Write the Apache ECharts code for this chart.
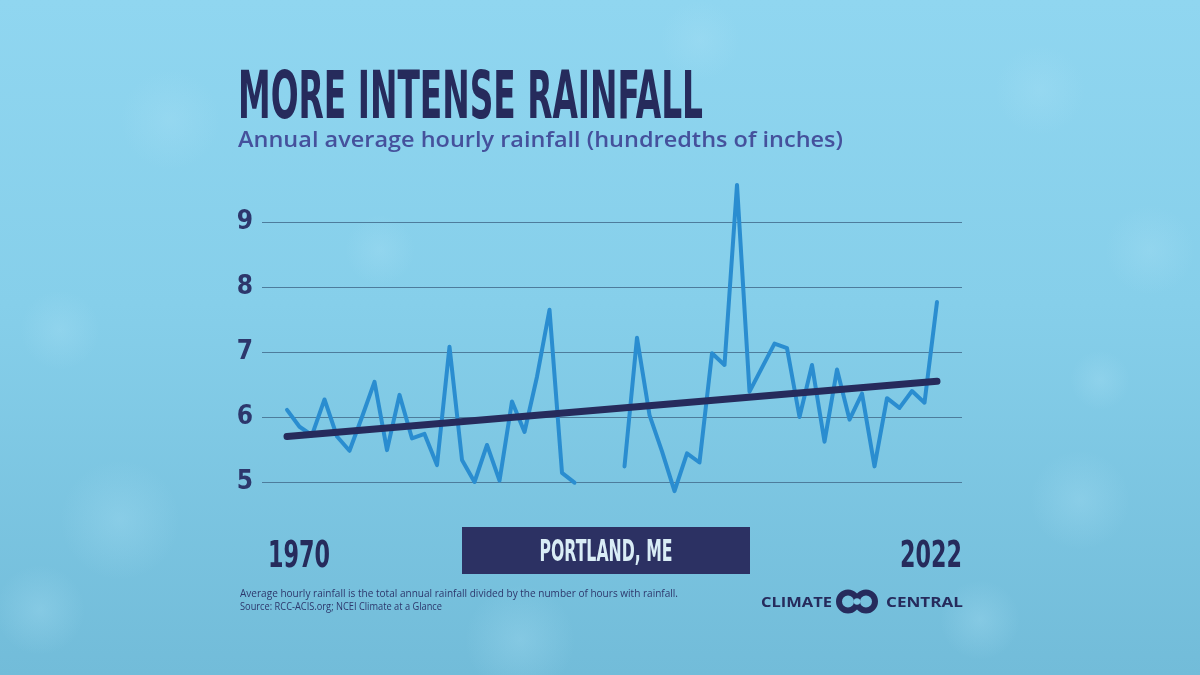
<!DOCTYPE html>
<html>
<head>
<meta charset="utf-8">
<script src="https://cdn.jsdelivr.net/npm/echarts@6/dist/echarts.min.js"></script>
<style>
html,body{margin:0;padding:0;background:#84cde8;}
#chart{width:1200px;height:675px;}
</style>
</head>
<body>
<div id="chart"></div>
<script>
// ---- Data ----
const years = [1970,1971,1972,1973,1974,1975,1976,1977,1978,1979,1980,1981,1982,1983,1984,1985,1986,1987,1988,1989,1990,1991,1992,1993,1994,1995,1996,1997,1998,1999,2000,2001,2002,2003,2004,2005,2006,2007,2008,2009,2010,2011,2012,2013,2014,2015,2016,2017,2018,2019,2020,2021,2022];
const hourlyRain = [6.11,5.85,5.72,6.27,5.70,5.48,6.00,6.54,5.49,6.34,5.67,5.74,5.26,7.08,5.34,5.00,5.57,5.02,6.24,5.77,6.62,7.65,5.14,4.99,null,null,null,5.24,7.22,6.03,5.47,4.86,5.44,5.30,6.98,6.80,9.57,6.39,6.76,7.13,7.06,6.00,6.80,5.62,6.73,5.96,6.36,5.24,6.29,6.14,6.40,6.22,7.77];
const trendYears = [1970, 2022];
const trendValues = [5.70, 6.55];
const yTicks = [5, 6, 7, 8, 9];
const startLabel = '1970';
const endLabel = '2022';
const titleText = 'MORE INTENSE RAINFALL';
const subtitleText = 'Annual average hourly rainfall (hundredths of inches)';
const placeText = 'PORTLAND, ME';
const note1 = 'Average hourly rainfall is the total annual rainfall divided by the number of hours with rainfall.';
const note2 = 'Source: RCC-ACIS.org; NCEI Climate at a Glance';

// ---- Helpers ----
const NARROW = '"Liberation Sans Narrow", "DejaVu Sans Condensed", "Roboto", sans-serif';
const SANS = '"Open Sans", "Noto Sans", sans-serif';
const mctx = document.createElement('canvas').getContext('2d');
function fitScale(text, weight, size, family, target) {
  mctx.font = weight + ' ' + size + 'px ' + family;
  const w = mctx.measureText(text).width;
  return w > 0 ? target / w : 1;
}
function fittedText(text, x, y, align, weight, size, family, targetW, color, scaleY) {
  return {
    type: 'text', x: x, y: y, silent: true, z: 10,
    scaleX: fitScale(text, weight, size, family, targetW),
    scaleY: scaleY || 1,
    style: { text: text, fill: color, fontSize: size, fontWeight: weight, fontFamily: family,
             textAlign: align, textVerticalAlign: 'middle' }
  };
}

const NAVY = '#262b5c';
const chart = echarts.init(document.getElementById('chart'));

const bgBlobs = [];
const blobSpecs = [[120,520,60],[60,330,40],[1080,500,50],[1150,250,45],[980,620,40],[520,640,55],[170,120,50],[1040,90,45],[700,40,40],[380,250,35],[1100,380,30],[40,610,45]];
blobSpecs.forEach(function(b){
  bgBlobs.push({type:'circle', silent:true, z:-9, shape:{cx:b[0], cy:b[1], r:b[2]},
    style:{fill:{type:'radial', x:0.5, y:0.5, r:0.5, colorStops:[{offset:0,color:'rgba(170,225,245,0.3)'},{offset:1,color:'rgba(170,225,245,0)'}]}}});
});

const option = {
  animation: false,
  backgroundColor: '#84cde8',
  grid: { left: 262, right: 238, top: 222, bottom: 193, containLabel: false },
  xAxis: {
    type: 'value', min: 1968, max: 2024,
    axisLine: { show: false }, axisTick: { show: false }, axisLabel: { show: false }, splitLine: { show: false }
  },
  yAxis: {
    type: 'value', min: yTicks[0], max: yTicks[yTicks.length - 1], interval: 1,
    axisLine: { show: false }, axisTick: { show: false },
    axisLabel: { margin: 9, color: '#2d376c', fontSize: 26, fontWeight: 'bold', fontFamily: NARROW },
    splitLine: { lineStyle: { color: '#4d7c9c', width: 1 } }
  },
  series: [
    {
      type: 'line', name: 'Hourly rainfall',
      data: years.map(function (y, i) { return [y, hourlyRain[i]]; }),
      showSymbol: false, connectNulls: false, clip: false, z: 3,
      lineStyle: { color: '#2a8dd0', width: 4, join: 'round', cap: 'round' }
    },
    {
      type: 'line', name: 'Trend',
      data: trendYears.map(function (y, i) { return [y, trendValues[i]]; }),
      showSymbol: false, clip: false, z: 4,
      lineStyle: { color: NAVY, width: 7, cap: 'round' }
    }
  ],
  graphic: [
    { type: 'rect', silent: true, z: -10, shape: { x: 0, y: 0, width: 1200, height: 675 },
      style: { fill: { type: 'linear', x: 0, y: 0, x2: 0, y2: 1,
        colorStops: [{ offset: 0, color: '#90d6f0' }, { offset: 0.45, color: '#86cfea' }, { offset: 1, color: '#72bcd9' }] } } }
  ].concat(bgBlobs).concat([
    fittedText(titleText, 238, 101, 'left', 'bold', 66, NARROW, 465, NAVY),
    fittedText(subtitleText, 238, 141, 'left', '600', 22, SANS, 605, '#45519c'),
    fittedText(startLabel, 268, 557, 'left', 'bold', 38, NARROW, 62, NAVY),
    fittedText(endLabel, 962, 557, 'right', 'bold', 38, NARROW, 62, NAVY),
    { type: 'rect', silent: true, z: 10, shape: { x: 462, y: 527, width: 288, height: 47 }, style: { fill: '#2c3163' } },
    fittedText(placeText, 606, 553, 'center', 'bold', 30, NARROW, 133, '#d9edf6'),
    fittedText(note1, 240, 594, 'left', 'normal', 11, SANS, 438, '#2d376c'),
    fittedText(note2, 240, 607, 'left', 'normal', 11, SANS, 202, '#2d376c'),
    fittedText('CLIMATE', 761, 603, 'left', 'bold', 14, SANS, 71, NAVY),
    fittedText('CENTRAL', 963, 603, 'right', 'bold', 14, SANS, 77, NAVY),
    { type: 'circle', silent: true, z: 10, shape: { cx: 848, cy: 601.5, r: 9 }, style: { fill: 'none', stroke: NAVY, lineWidth: 6 } },
    { type: 'circle', silent: true, z: 11, shape: { cx: 866, cy: 601.5, r: 9 }, style: { fill: 'none', stroke: NAVY, lineWidth: 6 } },
    { type: 'circle', silent: true, z: 12, shape: { cx: 857, cy: 601.5, r: 3.2 }, style: { fill: '#80c8e3' } }
  ])
};
chart.setOption(option);
</script>
</body>
</html>
